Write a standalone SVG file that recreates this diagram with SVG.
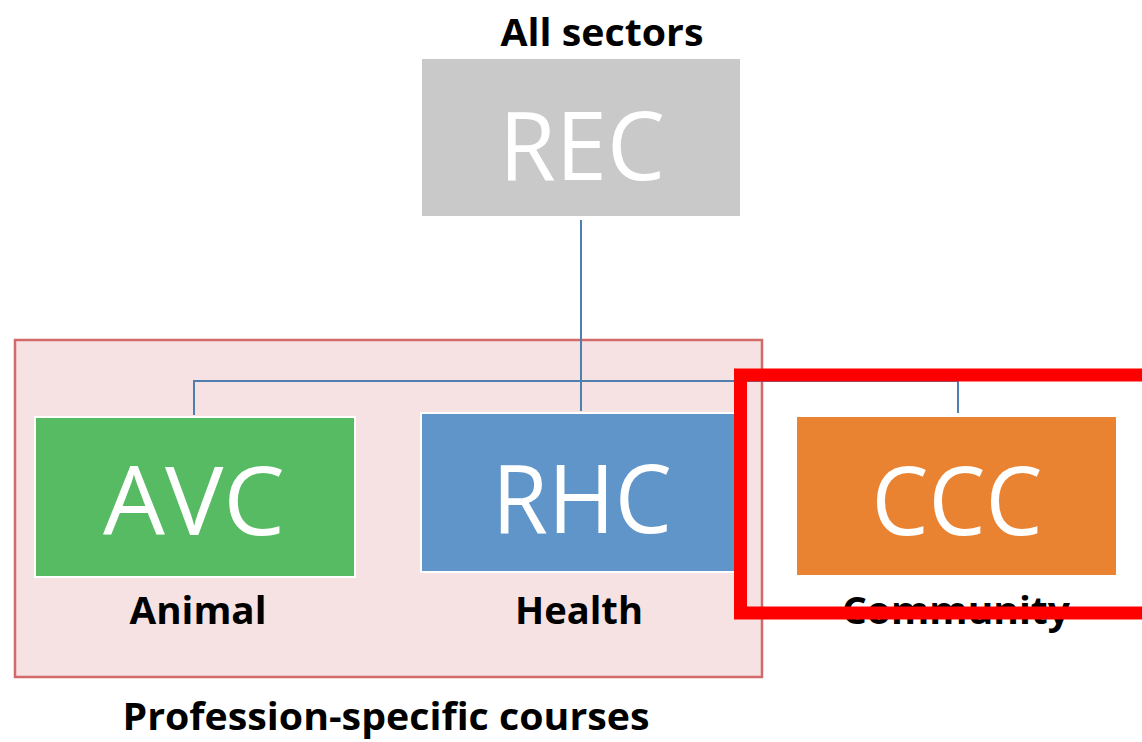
<svg xmlns="http://www.w3.org/2000/svg" width="1142" height="742" viewBox="0 0 1142 742">
<style>
.box{stroke:#ffffff;stroke-width:2}
.big{font-family:"Open Sans","Liberation Sans",sans-serif;font-size:96px;fill:#ffffff;text-anchor:middle}
.lbl{font-family:"Open Sans","Liberation Sans",sans-serif;font-weight:bold;font-size:37px;fill:#000000;text-anchor:middle}
.conn{fill:none;stroke:#4f7fae;stroke-width:2}
</style>
<rect width="1142" height="742" fill="#ffffff"/>
<g id="group-profession">
<rect x="15" y="340" width="747" height="337" fill="#f6e2e2" stroke="#d36a6a" stroke-width="2.5"/>
<text class="lbl" x="386" y="730" textLength="527" lengthAdjust="spacingAndGlyphs">Profession-specific courses</text>
</g>
<g id="connectors">
<path class="conn" d="M581 220 V411"/>
<path class="conn" d="M194 415 V381 H958 V413"/>
</g>
<g id="node-rec">
<text class="lbl" x="602" y="46" textLength="203" lengthAdjust="spacingAndGlyphs">All sectors</text>
<rect x="422" y="59" width="318" height="157" fill="#c9c9c9"/>
<text class="big" x="582" y="180" textLength="166" lengthAdjust="spacingAndGlyphs">REC</text>
</g>
<g id="node-avc">
<rect class="box" x="35" y="417" width="320" height="160" fill="#56bb62"/>
<text class="big" x="194" y="535" textLength="182" lengthAdjust="spacingAndGlyphs">AVC</text>
<text class="lbl" x="198" y="624" textLength="137" lengthAdjust="spacingAndGlyphs">Animal</text>
</g>
<g id="node-rhc">
<rect class="box" x="421" y="413" width="318" height="159" fill="#5f95c9"/>
<text class="big" x="582" y="533" textLength="180" lengthAdjust="spacingAndGlyphs">RHC</text>
<text class="lbl" x="579" y="624" textLength="128" lengthAdjust="spacingAndGlyphs">Health</text>
</g>
<g id="node-ccc">
<rect x="797" y="417" width="319" height="158" fill="#e98231"/>
<text class="big" x="957" y="535" textLength="171" lengthAdjust="spacingAndGlyphs">CCC</text>
<text class="lbl" x="956" y="624" textLength="228" lengthAdjust="spacingAndGlyphs">Community</text>
</g>
<g id="highlight">
<rect x="740.5" y="375" width="420" height="238" fill="none" stroke="#ff0000" stroke-width="13"/>
</g>
</svg>
